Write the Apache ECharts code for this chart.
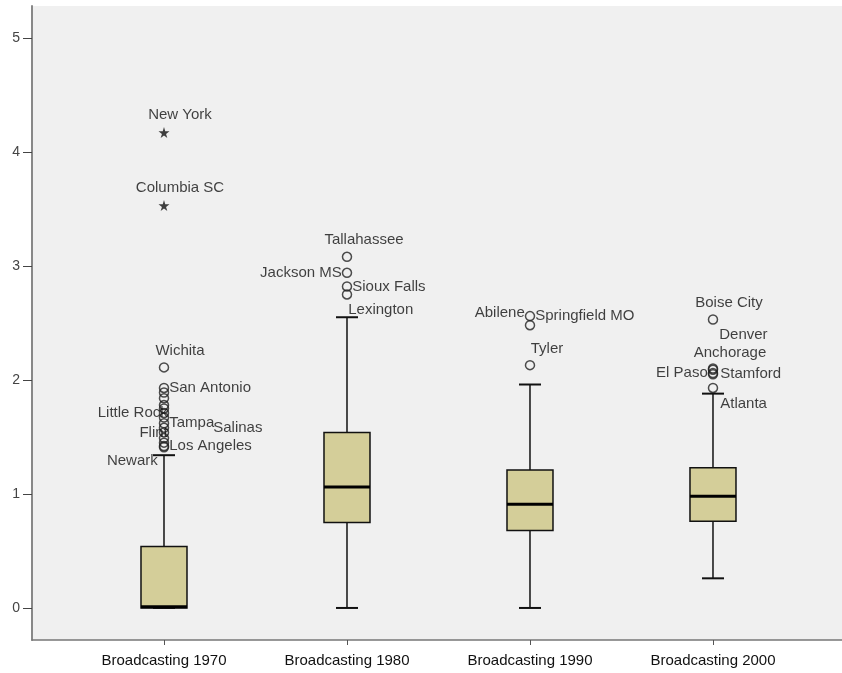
<!DOCTYPE html>
<html>
<head>
<meta charset="utf-8">
<script src="https://cdn.jsdelivr.net/npm/echarts@6/dist/echarts.min.js"></script>
<style>
  html, body { margin: 0; padding: 0; background: #fff; }
  #chart { width: 842px; height: 673px; }
</style>
</head>
<body>
<div id="chart"></div>
<script>
const categories = ['Broadcasting 1970', 'Broadcasting 1980', 'Broadcasting 1990', 'Broadcasting 2000']
const whiskerLow = [0, 0, 0, 0.26]
const q1 = [0, 0.75, 0.68, 0.76]
const median = [0.01, 1.06, 0.91, 0.98]
const q3 = [0.54, 1.54, 1.21, 1.23]
const whiskerHigh = [1.34, 2.55, 1.96, 1.88]
const yTicks = [0, 1, 2, 3, 4, 5]

// outliers (circles)
const outlierGroup = [0, 0, 0, 0, 0, 0, 0, 0, 0, 0, 0, 0, 0, 0, 0, 1, 1, 1, 1, 2, 2, 2, 3, 3, 3, 3, 3, 3]
const outlierValue = [2.11, 1.93, 1.89, 1.84, 1.78, 1.75, 1.71, 1.67, 1.62, 1.58, 1.54, 1.49, 1.45, 1.42, 1.41,
  3.08, 2.94, 2.82, 2.75,
  2.56, 2.48, 2.13,
  2.53, 2.10, 2.09, 2.06, 2.05, 1.93]
const outlierName = ['Wichita', 'San Antonio', '', '', '', '', 'Little Rock', '', 'Tampa', 'Salinas', 'Flint', '', '', 'Los Angeles', 'Newark',
  'Tallahassee', 'Jackson MS', 'Sioux Falls', 'Lexington',
  'Abilene', 'Springfield MO', 'Tyler',
  'Boise City', 'Denver', 'Anchorage', 'El Paso', 'Stamford', 'Atlanta']

// extremes (stars)
const extremeGroup = [0, 0]
const extremeValue = [4.17, 3.53]
const extremeName = ['New York', 'Columbia SC']

// where each case label sits next to its point
const labelPlace = {
  'New York': ['top', 16, -5],
  'Columbia SC': ['top', 16, -5],
  'Wichita': ['top', 16, -4],
  'San Antonio': ['right', 0, 0],
  'Little Rock': ['left', 9, 0],
  'Tampa': ['right', 0, 0],
  'Salinas': ['right', 44, 0],
  'Flint': ['left', 9, 0],
  'Los Angeles': ['right', 0, 0],
  'Newark': ['left', -1, 14],
  'Tallahassee': ['top', 17, -4],
  'Jackson MS': ['left', 0, 0],
  'Sioux Falls': ['right', 0, 0],
  'Lexington': ['right', -4, 15],
  'Abilene': ['left', 0, -3],
  'Springfield MO': ['right', 0, -9],
  'Tyler': ['top', 17, -4],
  'Boise City': ['top', 16, -4],
  'Denver': ['right', 1, -34],
  'Anchorage': ['top', 17, -4],
  'El Paso': ['left', 0, 0],
  'Stamford': ['right', 2, 0],
  'Atlanta': ['right', 2, 16],
}

const font = 'Liberation Sans, Arial, sans-serif'
const boxFill = '#d4ce99'
const ink = '#111111'

const makePoints = (groups, values, names) => {
  return values.map((v, i) => {
    const item = { value: [groups[i], v], name: names[i] }
    const place = labelPlace[names[i]]
    if (place) {
      item.label = { show: true, position: place[0], offset: [place[1], place[2]] }
    }
    return item
  })
}

const chart = echarts.init(document.getElementById('chart'))

chart.setOption({
  backgroundColor: '#ffffff',
  animation: false,
  grid: {
    left: 32,
    right: 0,
    top: 6,
    bottom: 33,
    show: true,
    backgroundColor: '#f0f0f0',
    borderWidth: 0,
  },
  xAxis: {
    type: 'value',
    min: -0.7213,
    max: 3.705,
    splitLine: { show: false },
    axisLine: { onZero: false, lineStyle: { color: '#777', width: 1.5 } },
    axisTick: { customValues: [0, 1, 2, 3], length: 5, lineStyle: { color: '#555' } },
    axisLabel: {
      customValues: [0, 1, 2, 3],
      formatter: (v) => categories[Math.round(v)] || '',
      color: ink,
      fontFamily: font,
      fontSize: 15,
      margin: 13,
    },
  },
  yAxis: {
    type: 'value',
    min: -0.281,
    max: 5.28,
    splitLine: { show: false },
    axisLine: { show: true, onZero: false, lineStyle: { color: '#888', width: 2 } },
    axisTick: { customValues: yTicks, length: 9, lineStyle: { color: '#444' } },
    axisLabel: {
      customValues: yTicks,
      color: '#444',
      fontFamily: font,
      fontSize: 14,
      margin: 12,
    },
  },
  series: [
    {
      type: 'custom',
      name: 'box',
      data: categories.map((c, i) => [i, whiskerLow[i], q1[i], median[i], q3[i], whiskerHigh[i]]),
      encode: { x: 0, y: [1, 2, 3, 4, 5] },
      renderItem: (params, api) => {
        const x = api.value(0)
        const lo = api.coord([x, api.value(1)])
        const bottom = api.coord([x, api.value(2)])
        const mid = api.coord([x, api.value(3)])
        const top = api.coord([x, api.value(4)])
        const hi = api.coord([x, api.value(5)])
        const half = 23
        const cap = 11
        const line = { stroke: ink, lineWidth: 1.5 }
        return {
          type: 'group',
          children: [
            { type: 'line', shape: { x1: lo[0], y1: lo[1], x2: hi[0], y2: hi[1] }, style: line },
            { type: 'line', shape: { x1: lo[0] - cap, y1: lo[1], x2: lo[0] + cap, y2: lo[1] }, style: { stroke: ink, lineWidth: 2 } },
            { type: 'line', shape: { x1: hi[0] - cap, y1: hi[1], x2: hi[0] + cap, y2: hi[1] }, style: { stroke: ink, lineWidth: 2 } },
            {
              type: 'rect',
              shape: { x: top[0] - half, y: top[1], width: half * 2, height: bottom[1] - top[1] },
              style: { fill: boxFill, stroke: ink, lineWidth: 1.5 },
            },
            { type: 'line', shape: { x1: mid[0] - half, y1: mid[1], x2: mid[0] + half, y2: mid[1] }, style: { stroke: '#000', lineWidth: 3 } },
          ],
        }
      },
      z: 2,
    },
    {
      type: 'scatter',
      name: 'outliers',
      symbol: 'circle',
      symbolSize: 9,
      itemStyle: { color: 'rgba(0,0,0,0)', borderColor: '#222', borderWidth: 1.5 },
      label: { show: false, distance: 0, color: ink, fontFamily: font, fontSize: 15, formatter: '{b}' },
      data: makePoints(outlierGroup, outlierValue, outlierName),
      z: 3,
    },
    {
      type: 'scatter',
      name: 'extremes',
      symbol: 'path://M50,0 L61,35 L98,35 L68,57 L79,91 L50,70 L21,91 L32,57 L2,35 L39,35 Z',
      symbolSize: 11,
      itemStyle: { color: '#111' },
      label: { show: false, distance: 0, color: ink, fontFamily: font, fontSize: 15, formatter: '{b}' },
      data: makePoints(extremeGroup, extremeValue, extremeName),
      z: 3,
    },
  ],
})
</script>
</body>
</html>
